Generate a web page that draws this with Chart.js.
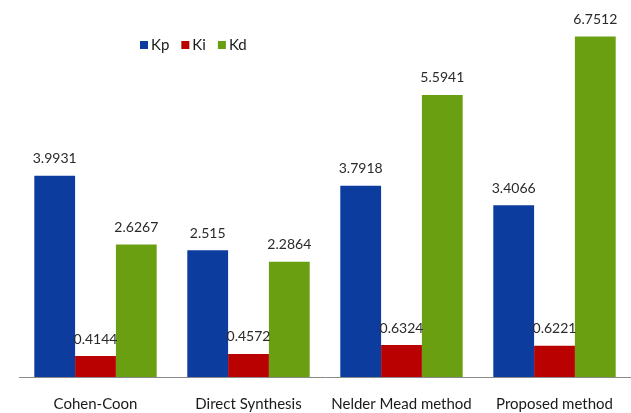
<!DOCTYPE html>
<html>
<head>
<meta charset="utf-8">
<script src="https://cdn.jsdelivr.net/npm/chart.js@4/dist/chart.umd.min.js"></script>
<style>
  html, body { margin: 0; padding: 0; background: #fff; overflow: hidden; }
  canvas { display: block; }
</style>
</head>
<body>
<canvas id="pid-chart" width="631" height="413"></canvas>
<script>
'use strict';

/* tuning methods and gains */
const methods = ['Cohen-Coon', 'Direct Synthesis', 'Nelder Mead method', 'Proposed method'];
const kp = [3.9931, 2.515, 3.7918, 3.4066];
const ki = [0.4144, 0.4572, 0.6324, 0.6221];
const kd = [2.6267, 2.2864, 5.5941, 6.7512];
const seriesNames = ['Kp', 'Ki', 'Kd'];

const FONT = "Lato, 'Open Sans', sans-serif";
const colors = ['#0B3C9E', '#BA0101', '#6A9F12'];

/* value text over each bar */
const barLabels = {
  id: 'barLabels',
  afterDatasetsDraw(chart) {
    const ctx = chart.ctx;
    ctx.save();
    ctx.font = '14px ' + FONT;
    ctx.fillStyle = '#2a2a2a';
    ctx.textAlign = 'center';
    ctx.textBaseline = 'middle';
    chart.data.datasets.forEach((ds, i) => {
      chart.getDatasetMeta(i).data.forEach((bar, j) => {
        ctx.fillText(String(ds.data[j]), bar.x, bar.y - 17);
      });
    });
    ctx.restore();
  }
};

/* small square legend in the upper left */
const boxLegend = {
  id: 'boxLegend',
  afterDraw(chart) {
    const ctx = chart.ctx;
    ctx.save();
    ctx.font = '15px ' + FONT;
    ctx.textBaseline = 'middle';
    let x = 140;
    const y = 45;
    chart.data.datasets.forEach(ds => {
      ctx.fillStyle = ds.backgroundColor;
      ctx.fillRect(x, y - 4, 8, 8);
      ctx.fillStyle = '#1a1a1a';
      ctx.fillText(ds.label, x + 11, y);
      x += 11 + ctx.measureText(ds.label).width + 12;
    });
    ctx.restore();
  }
};

new Chart(document.getElementById('pid-chart'), {
  type: 'bar',
  data: {
    labels: methods,
    datasets: [kp, ki, kd].map((d, i) => ({
      label: seriesNames[i],
      data: d,
      backgroundColor: colors[i],
      borderWidth: 0,
      barPercentage: 1.0,
      categoryPercentage: 0.8
    }))
  },
  options: {
    responsive: false,
    animation: false,
    layout: { padding: { left: 19, right: 0, top: 24, bottom: 0 } },
    plugins: {
      legend: { display: false },
      tooltip: { enabled: false }
    },
    scales: {
      x: {
        grid: { display: false, drawTicks: false },
        border: { display: true, color: '#8a8a8a', width: 1 },
        ticks: { color: '#1a1a1a', padding: 18, font: { family: FONT, size: 15 } },
        afterFit(scale) { scale.height = 36; }
      },
      y: {
        display: false,
        min: 0,
        max: 7
      }
    }
  },
  plugins: [barLabels, boxLegend]
});
</script>
</body>
</html>
